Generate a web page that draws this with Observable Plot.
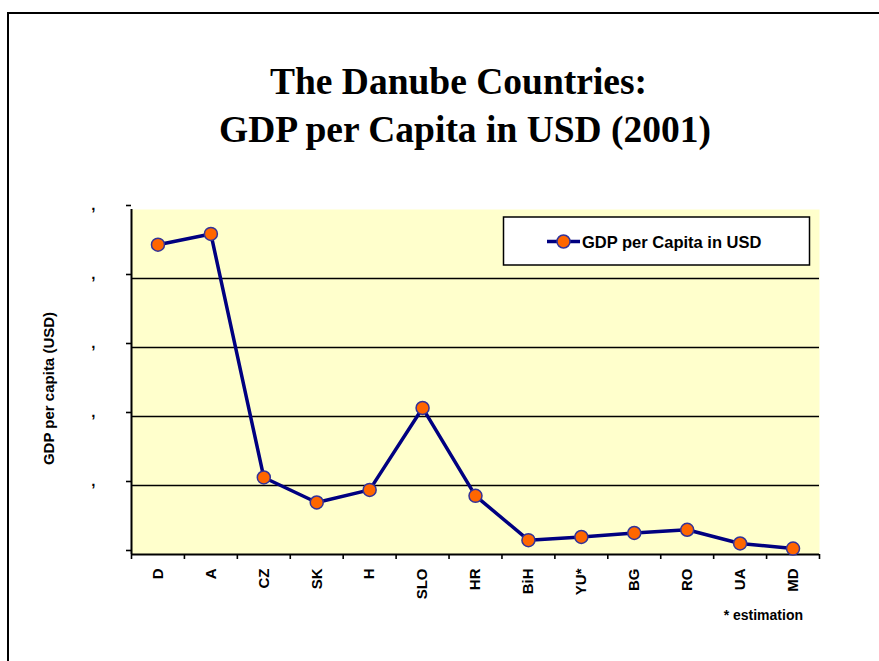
<!DOCTYPE html>
<html>
<head>
<meta charset="utf-8">
<script src="https://cdn.jsdelivr.net/npm/d3@7"></script>
<script src="https://cdn.jsdelivr.net/npm/@observablehq/plot@0.6"></script>
<style>
  html, body { margin: 0; padding: 0; background: #fff; overflow: hidden; }
  #wrap { position: relative; width: 879px; height: 661px; overflow: hidden; }
  #wrap > svg.overlay { position: absolute; left: 0; top: 0; pointer-events: none; }
  #chart { position: absolute; left: 0; top: 0; }
</style>
</head>
<body>
<div id="wrap"><div id="chart"></div></div>
<script>
// ---- data ----
const categories = ["D", "A", "CZ", "SK", "H", "SLO", "HR", "BiH", "YU*", "BG", "RO", "UA", "MD"];
const gdpPerCapita = [22450, 23230, 5580, 3770, 4680, 10620, 4250, 1040, 1270, 1560, 1790, 800, 430];
const yTicks = [0, 5000, 10000, 15000, 20000, 25000];
const titleLines = ["The Danube Countries:", "GDP per Capita in USD (2001)"];
const yTitle = "GDP per capita (USD)";
const seriesName = "GDP per Capita in USD";
const footnote = "* estimation";

const data = categories.map((c, i) => ({i, c, v: gdpPerCapita[i]}));
const bounds = d3.range(categories.length + 1).map(k => k - 0.5);
const sans = "Arial, 'Liberation Sans', sans-serif";

const chart = Plot.plot({
  width: 879,
  height: 661,
  marginLeft: 131,
  marginRight: 60,
  marginTop: 209,
  marginBottom: 107,
  style: {fontFamily: sans, background: "transparent", overflow: "visible"},
  x: {type: "linear", domain: [-0.5, categories.length - 0.5]},
  y: {domain: [0, 25000]},
  marks: [
    Plot.frame({fill: "#FFFFCC", stroke: null}),
    Plot.gridY(yTicks.filter(t => t > 0 && t < 25000), {stroke: "black", strokeOpacity: 1, strokeWidth: 1.6}),
    Plot.axisY(yTicks, {
      tickSize: 5, tickPadding: 31, tickFormat: d => d === 0 ? "" : ",",
      fontSize: 15, fontWeight: "bold", dy: -4, stroke: "black", strokeWidth: 1.6, label: null
    }),
    Plot.axisX(bounds, {tickSize: 5, tickFormat: () => "", stroke: "black", strokeWidth: 1.6, label: null}),
    Plot.axisX(d3.range(categories.length), {
      tickSize: 0, tickPadding: 14, tickRotate: -90,
      tickFormat: i => categories[i], fontSize: 15, fontWeight: "bold", fill: "black", label: null
    }),
    Plot.ruleX([-0.5], {stroke: "black", strokeWidth: 2}),
    Plot.ruleY([0], {stroke: "black", strokeWidth: 2}),
    Plot.line(data, {x: "i", y: "v", stroke: "#000080", strokeWidth: 3.5}),
    Plot.dot(data, {x: "i", y: "v", r: 6.5, fill: "#FF6600", stroke: "#333399", strokeWidth: 1.5}),
    Plot.text([yTitle], {
      frameAnchor: "left", textAnchor: "middle", dx: -82, dy: 6.5, rotate: -90,
      fontSize: 15, fontWeight: "bold", fill: "black"
    })
  ]
});
document.getElementById("chart").appendChild(chart);

// ---- overlay: page frame, title, legend, footnote ----
const ov = d3.select("#wrap").append("svg")
  .attr("class", "overlay").attr("width", 879).attr("height", 661);

ov.append("path").attr("d", "M8,700V13H879").attr("fill", "none")
  .attr("stroke", "black").attr("stroke-width", 2);

const titleX = [458.5, 465], titleY = [94.3, 141.7];
titleLines.forEach((t, k) => {
  ov.append("text").attr("x", titleX[k]).attr("y", titleY[k])
    .attr("text-anchor", "middle")
    .attr("font-family", "'Liberation Serif', 'Times New Roman', serif")
    .attr("font-weight", "bold").attr("font-size", 37.5).attr("fill", "black")
    .text(t);
});

const lg = ov.append("g");
lg.append("rect").attr("x", 503.5).attr("y", 217).attr("width", 306).attr("height", 48)
  .attr("fill", "white").attr("stroke", "black").attr("stroke-width", 1.5);
lg.append("line").attr("x1", 547).attr("x2", 580).attr("y1", 241.5).attr("y2", 241.5)
  .attr("stroke", "#000080").attr("stroke-width", 3.5);
lg.append("circle").attr("cx", 563.5).attr("cy", 241.5).attr("r", 6.5)
  .attr("fill", "#FF6600").attr("stroke", "#333399").attr("stroke-width", 1.5);
lg.append("text").attr("x", 582).attr("y", 247.5).attr("font-family", sans)
  .attr("font-weight", "bold").attr("font-size", 16.5).attr("fill", "black").text(seriesName);

ov.append("text").attr("x", 803).attr("y", 620).attr("text-anchor", "end")
  .attr("font-family", sans).attr("font-weight", "bold").attr("font-size", 14)
  .attr("fill", "black").text(footnote);
</script>
</body>
</html>
